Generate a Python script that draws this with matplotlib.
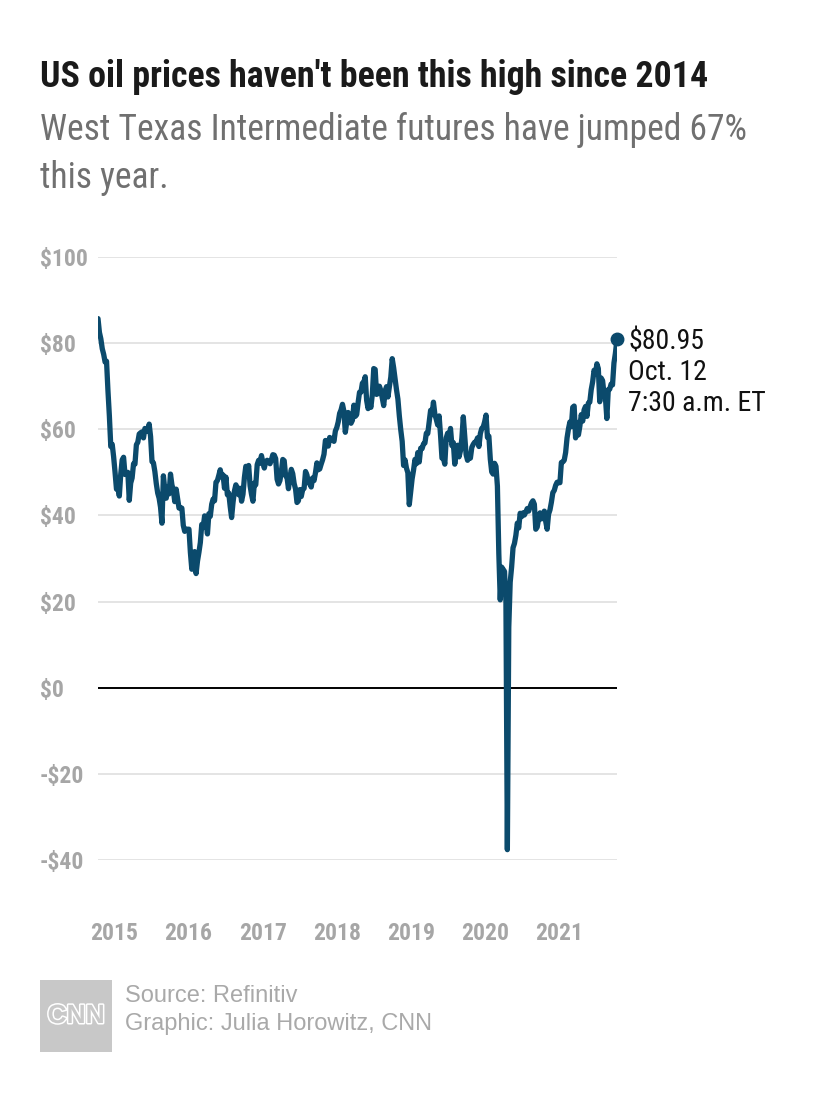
"""WTI crude futures, weekly closes Oct 2014 - Oct 2021 (CNN style chart)."""

import matplotlib
matplotlib.use("Agg")
import matplotlib.pyplot as plt
import matplotlib.patheffects as pe
from matplotlib import font_manager as fm
from matplotlib.patches import Rectangle
import pandas as pd

W, H = 830, 1102

# weekly Monday closes, USD per barrel
p2014 = [85.7, 82.5, 81.0,
         78.7, 77.4, 75.6, 75.8,
         69.0, 63.1, 56.0, 56.5, 53.6]
p2015 = [50.0, 46.1, 46.4, 44.5,
         49.6, 52.9, 53.5, 49.5,
         49.6, 50.0, 43.5, 47.5, 48.7,
         52.0, 51.9, 56.4, 57.0,
         58.9, 59.2, 59.4, 58.0,
         60.2, 59.7, 59.5, 61.2, 58.3,
         52.5, 52.2, 50.2, 47.4,
         45.2, 44.0, 41.9, 38.2, 49.2,
         46.0, 44.0, 46.7, 45.0,
         49.6, 47.1, 45.9, 43.2,
         46.1, 43.9, 41.7, 41.8, 41.7,
         37.7, 36.3, 36.8, 36.8]
p2016 = [36.8, 31.4, 27.5, 30.3,
         31.6, 26.5, 29.4, 31.4, 33.7,
         37.9, 37.2, 39.9, 38.3,
         35.7, 40.4, 39.8, 42.6,
         43.8, 43.4, 47.7, 48.1, 49.3,
         50.6, 48.9, 49.4, 46.3,
         48.9, 44.8, 45.2, 42.1,
         39.5, 43.0, 45.7, 47.1, 46.4,
         44.8, 46.3, 43.3, 44.9,
         48.8, 51.4, 50.3, 51.6, 46.9,
         44.9, 43.3, 47.5, 47.1,
         51.8, 52.8, 52.1, 53.9]
p2017 = [52.3, 51.0, 52.4, 52.8, 52.6,
         52.0, 52.9, 54.1, 54.0,
         53.2, 48.4, 47.3, 48.1,
         50.2, 53.0, 52.7, 49.2,
         48.8, 46.2, 48.8, 50.7, 49.7,
         47.4, 46.1, 43.0, 43.4,
         46.0, 44.4, 46.0, 46.3, 50.2,
         49.4, 47.6, 47.4, 46.6,
         48.7, 48.1, 49.9, 52.2,
         50.6, 50.8, 51.9, 52.9, 54.2,
         57.4, 56.8, 56.1, 58.1,
         57.5, 57.9, 57.2, 59.6]
p2018 = [60.4, 61.7, 63.7, 64.5, 65.8,
         64.2, 59.3, 61.7, 63.9,
         62.6, 61.4, 62.1, 65.6,
         63.0, 63.4, 66.2, 68.6, 68.6,
         70.7, 70.9, 72.2, 66.7,
         64.8, 66.1, 65.1, 68.1,
         74.1, 73.9, 68.1, 68.3, 70.0,
         69.0, 67.2, 65.5, 68.9,
         69.9, 67.5, 69.9, 72.1,
         76.4, 74.3, 71.8, 69.2, 67.0,
         63.1, 59.9, 57.2, 51.6,
         52.9, 51.0, 49.9, 42.5, 45.4]
p2019 = [48.5, 50.5, 53.0, 52.0,
         54.6, 52.4, 55.6, 55.5,
         56.6, 56.8, 59.1, 59.0,
         61.6, 64.4, 63.4, 66.3, 63.5,
         62.3, 61.0, 63.1, 58.6,
         53.3, 53.3, 51.9, 58.0,
         59.1, 57.7, 60.2, 56.2, 56.9,
         51.9, 54.9, 56.3, 53.6,
         55.0, 57.9, 62.9, 58.6, 54.1,
         52.8, 53.6, 53.3, 55.8,
         56.5, 57.0, 57.0, 58.0,
         56.0, 59.0, 60.2, 60.5, 61.7]
p2020 = [63.3, 58.1, 58.4, 53.1,
         50.1, 49.6, 52.1, 51.4,
         46.8, 31.1, 20.4, 28.0, 27.5,
         27.0, 20.0, -37.6, 14.0,
         24.5, 28.0, 32.5, 33.5,
         35.4, 38.2, 37.1, 40.5, 39.7,
         40.6, 40.1, 40.8, 41.6,
         41.0, 42.0, 42.9, 43.4, 42.6,
         36.8, 37.3, 39.3, 40.6,
         39.2, 39.4, 41.0, 38.6,
         36.8, 40.3, 41.3, 43.1, 45.3,
         45.8, 47.0, 47.7, 47.6]
p2021 = [47.6, 52.3, 52.4, 52.8,
         54.6, 58.0, 60.1, 61.7,
         60.6, 65.1, 65.4, 58.0, 61.6,
         58.7, 60.7, 63.4, 61.9,
         64.5, 65.3, 63.0, 66.1, 66.3,
         69.2, 71.0, 73.7, 72.9,
         75.2, 74.1, 66.4, 71.9,
         71.3, 68.3, 67.3, 62.5, 69.2,
         69.3, 70.5, 70.3, 75.4,
         77.6, 80.5]

LAST_DATE = pd.Timestamp("2021-10-12")
LAST_PRICE = 80.95

YEARS = [2015, 2016, 2017, 2018, 2019, 2020, 2021]
YTICKS = [100, 80, 60, 40, 20, 0, -20, -40]
YLABELS = ["$100", "$80", "$60", "$40", "$20", "$0", "-$20", "-$40"]

LINE = "#0b4a6c"
TICK_GREY = "#a6a6a6"

installed = {f.name for f in fm.fontManager.ttflist}


def pick(*names):
    for n in names:
        if n in installed:
            return n
    return "DejaVu Sans"


NARROW = pick("Liberation Sans Narrow", "Roboto Condensed", "Roboto")
SANS = pick("Liberation Sans", "Arial", "DejaVu Sans")


def px(x, y):
    return x / W, 1 - y / H


price = p2014 + p2015 + p2016 + p2017 + p2018 + p2019 + p2020 + p2021
dates = pd.date_range("2014-10-13", periods=len(price), freq="W-MON")
s = pd.Series(price, index=dates)
s[LAST_DATE] = LAST_PRICE

fig = plt.figure(figsize=(W / 100, H / 100), dpi=100)
fig.patch.set_facecolor("white")

l, t = px(98, 257)
r, b = px(617, 860)
ax = fig.add_axes([l, b, r - l, t - b])
ax.set_xlim(dates[0], LAST_DATE)
ax.set_ylim(-40, 100)
for sp in ax.spines.values():
    sp.set_visible(False)

ax.set_yticks(YTICKS)
ax.set_yticklabels(YLABELS)
ax.tick_params(axis="y", length=0, pad=41.8, labelcolor=TICK_GREY)
for lbl in ax.get_yticklabels():
    lbl.set_ha("left")
    lbl.set_fontfamily(NARROW)
    lbl.set_fontsize(17)
    lbl.set_fontweight("bold")

ax.set_xticks([pd.Timestamp(f"{y}-01-01") for y in YEARS])
ax.set_xticklabels([str(y) for y in YEARS])
ax.tick_params(axis="x", length=0, pad=45, labelcolor=TICK_GREY)
for lbl in ax.get_xticklabels():
    lbl.set_fontfamily(NARROW)
    lbl.set_fontsize(17)
    lbl.set_fontweight("bold")

ax.grid(axis="y", color="#dddddd", lw=1.1)
ax.grid(axis="x", visible=False)
ax.set_axisbelow(True)
ax.axhline(0, color="black", lw=1.4, zorder=2)

ax.plot(s.index, s.values, color=LINE, lw=3.8, solid_joinstyle="round",
        solid_capstyle="round", zorder=3)
ax.plot([LAST_DATE], [LAST_PRICE], "o", color=LINE, ms=9, clip_on=False, zorder=4)

# headline text
fig.text(*px(40, 87), "US oil prices haven't been this high since 2014",
         family=NARROW, weight="bold", size=25.8, color="#1a1a1a", va="baseline")
fig.text(*px(40, 140), "West Texas Intermediate futures have jumped 67%",
         family=NARROW, size=25.6, color="#707070", va="baseline")
fig.text(*px(40, 188), "this year.",
         family=NARROW, size=25.6, color="#707070", va="baseline")

# end-point label
for yb, txt in zip([349, 380, 411], ["$80.95", "Oct. 12", "7:30 a.m. ET"]):
    fig.text(*px(628, yb), txt, family=NARROW, size=20, color="#111111",
             va="baseline")

# footer
x0, y0 = px(40, 1052)
fig.add_artist(Rectangle((x0, y0), 72 / W, 72 / H, transform=fig.transFigure,
                         color="#c8c8c8", lw=0))
fig.text(*px(76, 1016), "CNN", family=SANS, weight="bold", size=19,
         color="#c8c8c8", ha="center", va="center",
         path_effects=[pe.withStroke(linewidth=2.2, foreground="white")])
fig.text(*px(125, 1002), "Source: Refinitiv", family=SANS, size=17,
         color="#a9a9a9", va="baseline")
fig.text(*px(125, 1030), "Graphic: Julia Horowitz, CNN", family=SANS, size=17,
         color="#a9a9a9", va="baseline")

fig.savefig("out.png", dpi=100)
